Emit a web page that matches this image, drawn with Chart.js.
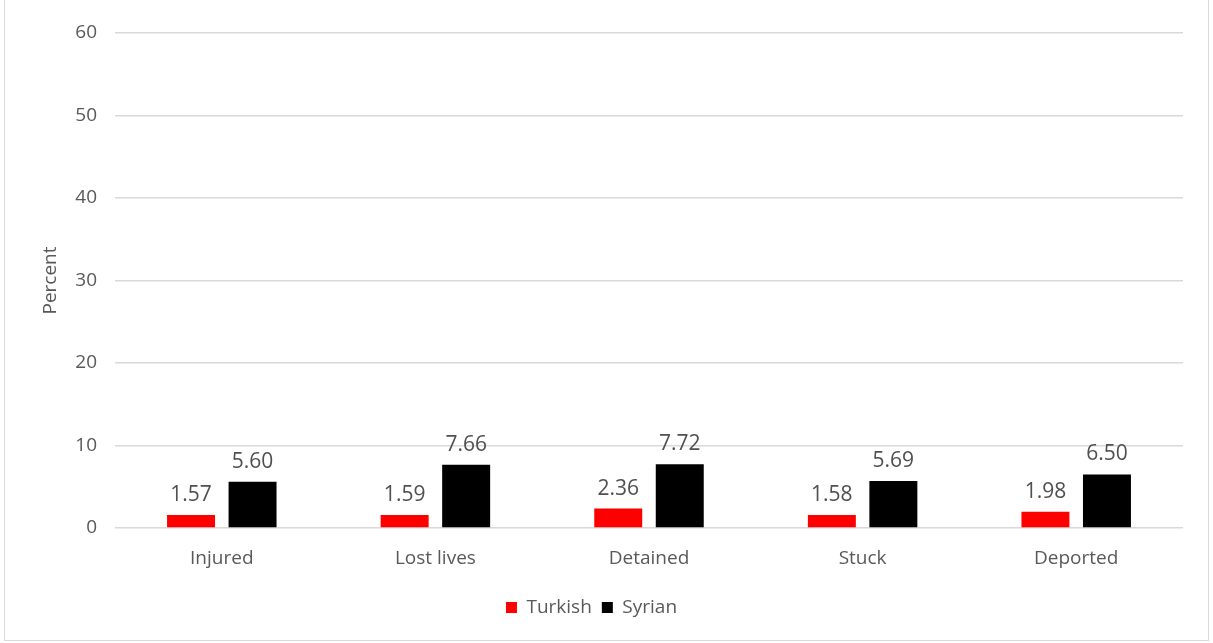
<!DOCTYPE html>
<html>
<head>
<meta charset="utf-8">
<script src="https://cdn.jsdelivr.net/npm/chart.js@4"></script>
<style>
  html, body { margin: 0; padding: 0; background: #fff; }
  #wrap { position: relative; width: 1213px; height: 643px; overflow: hidden; }
  #frame { position: absolute; left: 4px; top: -1px; width: 1203px; height: 640px; border: 1px solid #d9d9d9; pointer-events: none; }
  canvas { position: absolute; left: 0; top: 0; }
</style>
</head>
<body>
<div id="wrap">
  <canvas id="chart" width="1213" height="643"></canvas>
  <div id="frame"></div>
</div>
<script>
// values
const categories = ["Injured", "Lost lives", "Detained", "Stuck", "Deported"];
const turkish = [1.57, 1.59, 2.36, 1.58, 1.98];
const syrian = [5.60, 7.66, 7.72, 5.69, 6.50];
const yTicks = [0, 10, 20, 30, 40, 50, 60];

const textGray = "#595959";

// draws the value above each bar, like Excel data labels
const barLabels = {
    id: "barLabels",
    afterDatasetsDraw(chart) {
        const ctx = chart.ctx;
        ctx.save();
        ctx.font = "21px 'Open Sans'";
        ctx.fillStyle = "#505050";
        ctx.textAlign = "center";
        ctx.textBaseline = "alphabetic";
        chart.data.datasets.forEach((ds, i) => {
            chart.getDatasetMeta(i).data.forEach((bar, j) => {
                ctx.fillText(ds.data[j].toFixed(2), bar.x, bar.y - 14);
            });
        });
        ctx.restore();
    }
};

new Chart(document.getElementById("chart").getContext("2d"), {
    type: "bar",
    data: {
        labels: categories,
        datasets: [
            { label: "Turkish", data: turkish, backgroundColor: "#ff0000", categoryPercentage: 0.576, barPercentage: 0.78 },
            { label: "Syrian", data: syrian, backgroundColor: "#000000", categoryPercentage: 0.576, barPercentage: 0.78 }
        ]
    },
    options: {
        responsive: false,
        animation: false,
        layout: { padding: { top: 33, right: 30, bottom: 16, left: 0 } },
        plugins: {
            legend: {
                position: "bottom",
                labels: {
                    boxWidth: 11,
                    boxHeight: 11,
                    padding: 10,
                    color: textGray,
                    font: { family: "'Open Sans'", size: 19 }
                }
            },
            tooltip: { enabled: false }
        },
        scales: {
            x: {
                grid: { display: false },
                border: { display: false },
                ticks: { color: textGray, padding: 11, font: { family: "'Open Sans'", size: 19 } },
                afterFit(scale) { scale.height = 60; }
            },
            y: {
                min: 0,
                max: 60,
                afterBuildTicks(scale) { scale.ticks = yTicks.map(v => ({ value: v })); },
                grid: { color: "#d9d9d9", lineWidth: 1.5, drawTicks: false },
                border: { display: false },
                ticks: { color: textGray, padding: 18, font: { family: "'Open Sans'", size: 19 } },
                title: {
                    display: true,
                    text: "Percent",
                    color: textGray,
                    padding: { top: 39, bottom: 0 },
                    font: { family: "'Open Sans'", size: 19 }
                },
                afterFit(scale) { scale.width = 115; }
            }
        }
    },
    plugins: [barLabels]
});
</script>
</body>
</html>
